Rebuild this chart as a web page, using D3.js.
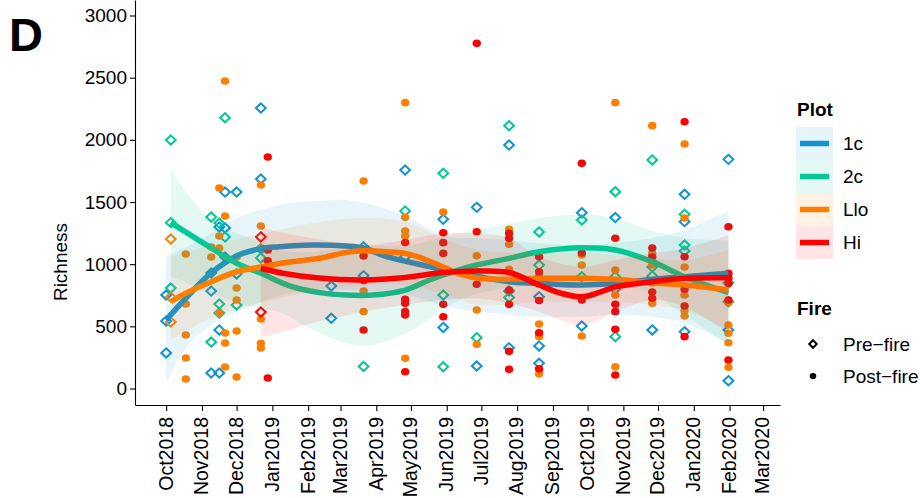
<!DOCTYPE html>
<html><head><meta charset="utf-8">
<script src="https://cdn.jsdelivr.net/npm/d3@7"></script>
<style>
body{margin:0;background:#fff}
svg{display:block}
text{font-family:"Liberation Sans",Arial,Helvetica,sans-serif}
</style>
</head><body>
<svg id="chart" width="920" height="498"></svg>
<script>
// ---------------- data ----------------
const monthTicks = ["2018-10-01","2018-11-01","2018-12-01","2019-01-01","2019-02-01","2019-03-01",
  "2019-04-01","2019-05-01","2019-06-01","2019-07-01","2019-08-01","2019-09-01","2019-10-01",
  "2019-11-01","2019-12-01","2020-01-01","2020-02-01","2020-03-01"];
const yTicks = [0,500,1000,1500,2000,2500,3000];
const plotNames = ["1c","2c","Llo","Hi"];
const plotColors = ["#1193d1","#00c996","#ff8000","#ff0000"];
const fireNames = ["Pre\u2212fire","Post\u2212fire"];

// points: [date, richness]
const pts1cPre = [
 ["2018-10-01",752],["2018-10-01",543],["2018-10-01",286],
 ["2018-11-09",929],["2018-11-09",784],["2018-11-09",125],
 ["2018-11-16",1299],["2018-11-16",471],["2018-11-16",125],
 ["2018-11-21",1580],["2018-11-21",1291],["2018-11-21",1058],
 ["2018-12-01",1580],["2018-12-01",921],
 ["2018-12-22",2256],["2018-12-22",1685],["2018-12-22",1122],
 ["2019-02-21",824],["2019-02-21",565],
 ["2019-03-21",1140],["2019-03-21",907],
 ["2019-04-26",1757],["2019-04-26",1060],
 ["2019-05-29",1361],["2019-05-29",491],
 ["2019-06-27",1457],["2019-06-27",181],
 ["2019-07-25",1958],["2019-07-25",784],["2019-07-25",328],
 ["2019-08-20",738],["2019-08-20",342],["2019-08-20",203],
 ["2019-09-26",1414],["2019-09-26",503],
 ["2019-10-25",1375],["2019-10-25",800],
 ["2019-11-26",471],
 ["2019-12-24",1562],["2019-12-24",1342],["2019-12-24",457],
 ["2020-01-31",1843],["2020-01-31",471],["2020-01-31",63]
];
const pts2cPre = [
 ["2018-10-05",1999],["2018-10-05",1334],["2018-10-05",808],
 ["2018-11-09",1379],["2018-11-09",374],
 ["2018-11-16",1331],["2018-11-16",680],["2018-11-16",607],
 ["2018-11-21",2178],["2018-11-21",1219],
 ["2018-12-01",672],
 ["2018-12-22",1050],
 ["2019-03-21",177],
 ["2019-04-26",1428],
 ["2019-05-29",1731],["2019-05-29",752],["2019-05-29",175],
 ["2019-06-27",409],
 ["2019-07-25",2114],["2019-07-25",732],
 ["2019-08-20",1259],["2019-08-20",993],
 ["2019-09-26",1355],["2019-09-26",899],
 ["2019-10-25",1583],["2019-10-25",899],["2019-10-25",417],
 ["2019-11-26",1838],["2019-11-26",977],["2019-11-26",905],
 ["2019-12-24",1401],["2019-12-24",1154],["2019-12-24",1106],
 ["2020-01-31",851],["2020-01-31",698]
];
const ptsLloPre = [["2018-10-05",1202],["2018-10-05",736],["2018-10-05",535]];
const ptsLloPost = [
 ["2018-10-18",1082],["2018-10-18",680],["2018-10-18",430],["2018-10-18",245],["2018-10-18",76],
 ["2018-11-09",1138],["2018-11-09",1058],
 ["2018-11-16",1613],["2018-11-16",1226],["2018-11-16",1130],["2018-11-16",607],
 ["2018-11-21",2473],["2018-11-21",1387],["2018-11-21",446],["2018-11-21",366],["2018-11-21",173],
 ["2018-12-01",1058],["2018-12-01",808],["2018-12-01",712],["2018-12-01",462],["2018-12-01",92],
 ["2018-12-22",1637],["2018-12-22",1307],["2018-12-22",1130],["2018-12-22",559],["2018-12-22",364],["2018-12-22",326],
 ["2019-03-21",1669],["2019-03-21",784],["2019-03-21",618],
 ["2019-04-26",2299],["2019-04-26",1377],["2019-04-26",1267],["2019-04-26",1227],["2019-04-26",243],
 ["2019-05-29",1420],
 ["2019-06-27",1068],["2019-06-27",631],["2019-06-27",355],
 ["2019-07-25",1280],["2019-07-25",1160],["2019-07-25",959],
 ["2019-08-20",519],["2019-08-20",417],["2019-08-20",118],
 ["2019-09-26",1074],["2019-09-26",993],["2019-09-26",422],
 ["2019-10-25",2299],["2019-10-25",953],["2019-10-25",752],["2019-10-25",175],
 ["2019-11-26",2114],["2019-11-26",1087],["2019-11-26",993],["2019-11-26",849],["2019-11-26",685],
 ["2019-12-24",1966],["2019-12-24",1371],["2019-12-24",977],["2019-12-24",752],["2019-12-24",626],["2019-12-24",583],
 ["2020-01-31",690],["2020-01-31",511],["2020-01-31",444],["2020-01-31",368],["2020-01-31",171]
];
const ptsHiPre = [["2018-12-22",1219],["2018-12-22",615]];
const ptsHiPost = [
 ["2018-12-28",1862],["2018-12-28",1114],["2018-12-28",1028],["2018-12-28",84],
 ["2019-03-21",1066],["2019-03-21",869],["2019-03-21",471],
 ["2019-04-26",1174],["2019-04-26",717],["2019-04-26",685],["2019-04-26",618],["2019-04-26",591],["2019-04-26",135],
 ["2019-05-29",1253],["2019-05-29",1173],["2019-05-29",1087],["2019-05-29",677],["2019-05-29",577],
 ["2019-06-27",2776],["2019-06-27",1261],["2019-06-27",838],
 ["2019-07-25",1248],["2019-07-25",1208],["2019-07-25",792],["2019-07-25",677],["2019-07-25",299],["2019-07-25",154],
 ["2019-08-20",1060],["2019-08-20",939],["2019-08-20",899],["2019-08-20",708],["2019-08-20",449],["2019-08-20",158],
 ["2019-09-26",1811],["2019-09-26",1090],["2019-09-26",712],
 ["2019-10-25",1208],["2019-10-25",678],["2019-10-25",618],["2019-10-25",476],["2019-10-25",109],
 ["2019-11-26",1130],["2019-11-26",1058],["2019-11-26",776],["2019-11-26",725],
 ["2019-12-24",2146],["2019-12-24",1060],["2019-12-24",798],["2019-12-24",664],["2019-12-24",417],
 ["2020-01-31",1301],["2020-01-31",927],["2020-01-31",886],["2020-01-31",844],["2020-01-31",712],["2020-01-31",229]
];

// smoothed fits: [date, fit]
const fit1c = [["2018-10-01",551],["2018-10-19",736],["2018-11-09",929],["2018-12-01",1066],["2018-12-22",1126],
 ["2019-01-07",1141],["2019-02-05",1154],["2019-03-06",1146],["2019-03-21",1130],["2019-04-10",1060],
 ["2019-04-26",1025],["2019-05-17",980],["2019-06-06",939],["2019-06-29",899],["2019-07-25",859],
 ["2019-08-20",846],["2019-09-26",832],["2019-10-25",846],["2019-11-26",878],["2019-12-24",899],["2020-01-31",927]];
const fit2c = [["2018-10-05",1334],["2018-11-09",1130],["2018-12-01",1007],["2018-12-22",927],["2019-01-18",819],
 ["2019-02-11",771],["2019-03-06",752],["2019-03-29",752],["2019-04-26",792],["2019-05-17",873],
 ["2019-06-06",939],["2019-06-27",993],["2019-07-25",1047],["2019-08-20",1100],["2019-09-26",1132],
 ["2019-10-25",1114],["2019-11-26",1020],["2019-12-24",899],["2020-01-31",771]];
const fitLlo = [["2018-10-05",698],["2018-10-18",766],["2018-11-09",859],["2018-12-01",939],["2018-12-22",977],
 ["2019-01-16",1017],["2019-02-11",1047],["2019-03-06",1095],["2019-03-21",1108],["2019-04-10",1100],
 ["2019-04-26",1087],["2019-05-11",1047],["2019-05-29",977],["2019-06-15",913],["2019-06-29",886],
 ["2019-07-25",878],["2019-08-20",886],["2019-09-26",886],["2019-10-25",878],["2019-11-26",851],
 ["2019-12-24",832],["2020-01-31",792]];
const fitHi = [["2018-12-22",967],["2019-01-10",927],["2019-02-08",891],["2019-03-21",873],["2019-04-26",893],
 ["2019-05-29",933],["2019-06-27",945],["2019-07-25",933],["2019-08-20",832],["2019-09-07",768],
 ["2019-09-26",738],["2019-10-12",776],["2019-10-25",816],["2019-11-26",859],["2019-12-24",886],["2020-01-31",891]];

// confidence bands: [date, lower, upper]
const band1c = [["2018-10-01",44,1060],["2018-10-19",336,1141],["2018-11-09",511,1248],["2018-12-01",618,1369],
 ["2018-12-22",698,1436],["2019-01-16",768,1492],["2019-02-11",792,1508],["2019-03-06",792,1516],
 ["2019-04-04",776,1462],["2019-05-02",744,1355],["2019-06-01",658,1221],["2019-06-29",618,1208],
 ["2019-08-20",577,1170],["2019-09-26",577,1154],["2019-10-25",591,1170],["2019-11-26",577,1210],
 ["2019-12-24",527,1275],["2020-01-31",364,1430]];
const band2c = [["2018-10-05",899,1771],["2018-10-19",849,1570],["2018-11-09",766,1355],["2018-12-01",696,1248],
 ["2018-12-22",631,1181],["2019-01-07",615,1114],["2019-02-05",470,1100],["2019-03-06",364,1140],
 ["2019-03-29",350,1150],["2019-05-02",471,1154],["2019-06-01",658,1227],["2019-06-29",766,1275],
 ["2019-08-20",832,1370],["2019-09-26",849,1400],["2019-10-25",849,1370],["2019-11-24",768,1275],
 ["2019-12-24",591,1210],["2020-01-31",350,1190]];
const bandLlo = [["2018-10-05",390,1060],["2018-11-09",567,1154],["2018-12-22",688,1243],["2019-02-11",792,1339],
 ["2019-03-21",832,1371],["2019-04-26",832,1339],["2019-06-01",752,1194],["2019-06-29",672,1114],
 ["2019-08-20",696,1090],["2019-09-26",696,1090],["2019-10-25",696,1074],["2019-11-26",672,1050],
 ["2019-12-24",631,1034],["2020-01-31",470,1114]];
const bandHi = [["2018-12-22",417,1301],["2019-01-07",446,1259],["2019-02-05",527,1208],["2019-03-21",618,1154],
 ["2019-04-26",672,1194],["2019-05-29",712,1248],["2019-06-27",725,1248],["2019-07-25",685,1208],
 ["2019-08-20",618,1060],["2019-09-26",511,980],["2019-10-25",618,1034],["2019-11-26",712,1087],
 ["2019-12-24",658,1128],["2020-01-31",444,1235]];

// ---------------- drawing ----------------
const FS = "19px";
const parse = d3.utcParse("%Y-%m-%d");
const svg = d3.select("#chart");
svg.append("rect").attr("width",920).attr("height",498).attr("fill","#fff");

const x = d3.scaleUtc()
  .domain([new Date(Date.UTC(2018,8,4)), new Date(Date.UTC(2020,2,15,16))])
  .range([135,780]);
const y = d3.scaleLinear().domain([-132.7,3124.7]).range([405,0]);
const color = d3.scaleOrdinal().domain(plotNames).range(plotColors);

const plotG = svg.append("g");

// points
const pointSets = [
  {plot:"1c", fire:"pre", data:pts1cPre},
  {plot:"2c", fire:"pre", data:pts2cPre},
  {plot:"Llo", fire:"pre", data:ptsLloPre},
  {plot:"Llo", fire:"post", data:ptsLloPost},
  {plot:"Hi", fire:"pre", data:ptsHiPre},
  {plot:"Hi", fire:"post", data:ptsHiPost}
];
const diamond = (rx,ry)=>`M0,${-ry}L${rx},0L0,${ry}L${-rx},0Z`;
pointSets.forEach(s=>{
  const g = plotG.append("g");
  if(s.fire==="pre"){
    g.selectAll("path").data(s.data).join("path")
      .attr("transform",d=>`translate(${x(parse(d[0]))},${y(d[1])})`)
      .attr("d",diamond(4.9,4.6))
      .attr("fill","none").attr("stroke",color(s.plot)).attr("stroke-width",2);
  } else {
    g.selectAll("ellipse").data(s.data).join("ellipse")
      .attr("cx",d=>x(parse(d[0]))).attr("cy",d=>y(d[1]))
      .attr("rx",4.2).attr("ry",3.8)
      .attr("fill",color(s.plot));
  }
});

// smooths (ribbon + line per group)
const smooths = [
  {plot:"1c", fit:fit1c, band:band1c},
  {plot:"2c", fit:fit2c, band:band2c},
  {plot:"Llo", fit:fitLlo, band:bandLlo},
  {plot:"Hi", fit:fitHi, band:bandHi}
];
const curve = d3.curveCatmullRom.alpha(0.5);
const area = d3.area().curve(curve)
  .x(d=>x(parse(d[0]))).y0(d=>y(d[1])).y1(d=>y(d[2]));
const line = d3.line().curve(curve)
  .x(d=>x(parse(d[0]))).y(d=>y(d[1]));
smooths.forEach(s=>{
  plotG.append("path").datum(s.band).attr("d",area)
    .attr("fill",color(s.plot)).attr("fill-opacity",0.1).attr("stroke","none");
  plotG.append("path").datum(s.fit).attr("d",line)
    .attr("fill","none").attr("stroke",color(s.plot)).attr("stroke-width",5.5)
    .attr("stroke-linecap","butt").attr("stroke-linejoin","round");
});

// axes
const fmt = d3.utcFormat("%b%Y");
const yAxis = svg.append("g").attr("transform","translate(135,0)")
  .call(d3.axisLeft(y).tickValues(yTicks).tickFormat(d3.format("d"))
    .tickSize(5).tickSizeOuter(0).tickPadding(3));
const xAxis = svg.append("g").attr("transform","translate(0,405)")
  .call(d3.axisBottom(x).tickValues(monthTicks.map(parse)).tickFormat(fmt)
    .tickSize(6).tickSizeOuter(0).tickPadding(4));
[yAxis,xAxis].forEach(a=>{
  a.select(".domain").attr("stroke","#000").attr("stroke-width",1.1);
  a.selectAll(".tick line").attr("stroke","#000").attr("stroke-width",1.1);
  a.selectAll("text").attr("fill","#000").style("font-size",FS)
    .style("font-family","'Liberation Sans',Arial,sans-serif");
});
xAxis.selectAll("text")
  .style("font-size","19.5px")
  .attr("transform","rotate(-90)")
  .attr("text-anchor","end")
  .attr("x",-12).attr("y",-1).attr("dy","0.35em");

// axis title
svg.append("text").attr("transform","translate(67,262) rotate(-90)")
  .attr("text-anchor","middle").style("font-size",FS).text("Richness");

// panel tag
svg.append("text").attr("x",9).attr("y",51)
  .style("font-size","47px").style("font-weight","bold").text("D");

// legend: Plot
const lg = svg.append("g");
lg.append("text").attr("x",797).attr("y",116).style("font-size",FS).style("font-weight","bold").text("Plot");
plotNames.forEach((p,i)=>{
  const y0 = 127 + i*33;
  lg.append("rect").attr("x",796).attr("y",y0).attr("width",37).attr("height",33)
    .attr("fill",color(p)).attr("fill-opacity",0.1);
  lg.append("line").attr("x1",800).attr("x2",829).attr("y1",y0+16.5).attr("y2",y0+16.5)
    .attr("stroke",color(p)).attr("stroke-width",5.5);
  lg.append("text").attr("x",843).attr("y",y0+16.5).attr("dy","0.35em")
    .style("font-size",FS).text(p);
});
// legend: Fire
lg.append("text").attr("x",797).attr("y",315).style("font-size",FS).style("font-weight","bold").text("Fire");
fireNames.forEach((f,i)=>{
  const cy = 344 + i*32;
  if(i===0){
    lg.append("path").attr("transform",`translate(813,${cy})`).attr("d",diamond(3.8,3.8))
      .attr("fill","none").attr("stroke","#000").attr("stroke-width",2);
  } else {
    lg.append("ellipse").attr("cx",813).attr("cy",cy).attr("rx",3.3).attr("ry",3.1).attr("fill","#000");
  }
  lg.append("text").attr("x",843).attr("y",cy).attr("dy","0.35em").style("font-size",FS).text(f);
});
</script>
</body></html>
